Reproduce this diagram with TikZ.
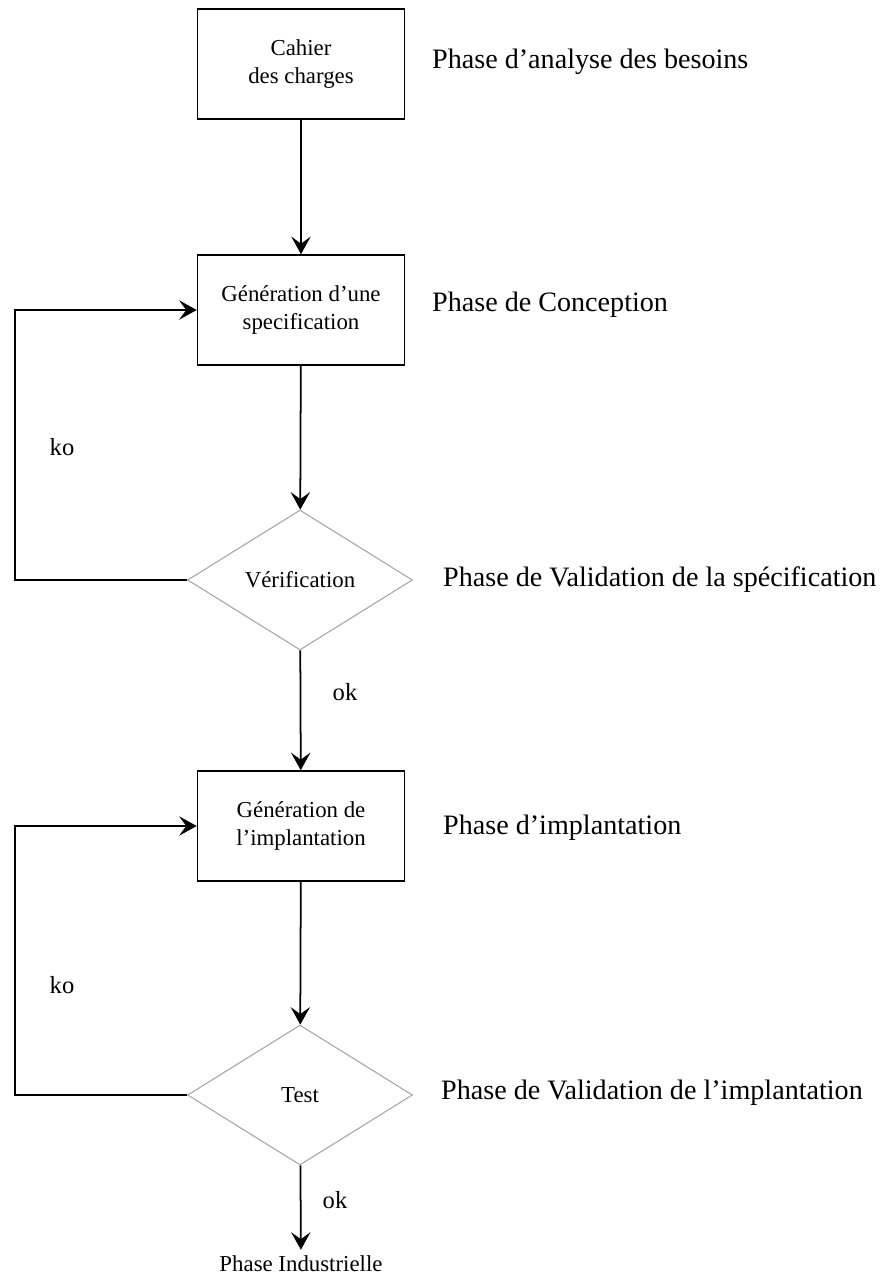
\documentclass[tikz,border=0pt]{standalone}
\usepackage{fontspec}
\setmainfont{Liberation Serif}
\usetikzlibrary{shapes.geometric, arrows.meta}

\begin{document}
\begin{tikzpicture}[x=0.02cm, y=-0.02cm,
	boite/.style={draw, line width=0.9pt, minimum width=4.14cm,
	minimum height=2.2cm, align=center, font=\fontsize{13}{16}\selectfont},
	losange/.style={draw=gray!70, line width=0.6pt, diamond, inner sep=0pt,
	minimum width=4.5cm, minimum height=2.8cm, font=\fontsize{13}{16}\selectfont},
	phase/.style={anchor=west, font=\fontsize{16}{19}\selectfont},
	lbl/.style={font=\fontsize{14}{16}\selectfont},
	fl/.style={line width=1pt, -{Stealth[length=10pt, width=11pt, inset=4pt]}}]
\useasboundingbox (0,0) rectangle (888,1279);
\node [boite] (1) at (301,64) {Cahier\\des charges};
\node [phase] (p1) at (426,62) {Phase d'analyse des besoins};
\node [boite] (2) at (301,310) {Génération d'une\\specification};
\node [phase] (p2) at (426,305) {Phase de Conception};
\node [losange] (3) at (300,580) {Vérification};
\node [phase] (p3) at (437,580) {Phase de Validation de la spécification};
\node [boite] (4) at (301,826) {Génération de\\l'implantation};
\node [phase] (p4) at (437,828) {Phase d'implantation};
\node [losange] (5) at (300,1095) {Test};
\node [phase] (p5) at (435,1093) {Phase de Validation de l'implantation};
\node [font=\fontsize{13}{16}\selectfont] (6) at (301,1264) {Phase Industrielle};
\node [lbl] (ko1) at (62,447) {ko};
\node [lbl] (ok1) at (345,692) {ok};
\node [lbl] (ko2) at (62,985) {ko};
\node [lbl] (ok2) at (335,1200) {ok};
\draw [fl] (1) -- (2);
\draw [fl] (2) -- (3);
\draw [fl] (3.west) -- (15,580) |- (2.west);
\draw [fl] (3) -- (4);
\draw [fl] (4) -- (5);
\draw [fl] (5.west) -- (15,1095) |- (4.west);
\draw [fl] (5) -- (6);
\end{tikzpicture}
\end{document}
